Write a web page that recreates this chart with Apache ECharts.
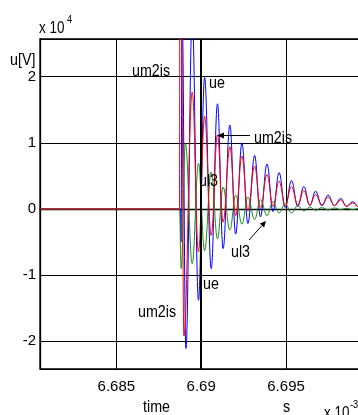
<!DOCTYPE html>
<html><head><meta charset="utf-8">
<script src="https://cdn.jsdelivr.net/npm/echarts@6/dist/echarts.min.js"></script>
<style>html,body{margin:0;padding:0;background:#fff;width:358px;height:415px;overflow:hidden}#c{width:368px;height:415px}</style>
</head><body><div id="c"></div>
<script>
const FONT = "'Liberation Sans',Arial,sans-serif";
// axis ranges (time in 10^-3 s, voltage in 10^4 V)
const xRange = [6.6805, 6.69983];
const yRange = [-2.42, 2.57];
const startTime = 6.6805;
// shared times of oscillation extrema after onset
const extremaTimes = [6.68947, 6.68984, 6.69020, 6.69059, 6.69096, 6.69129, 6.69169, 6.69203, 6.69240, 6.69275, 6.69315, 6.69349, 6.69388, 6.69423, 6.69459, 6.69495, 6.69532, 6.69569, 6.69605, 6.69640, 6.69674, 6.69711, 6.69748, 6.69785, 6.69822, 6.69856, 6.69893, 6.69929, 6.69965];
// ue (blue)
const ueOnsetTimes = [6.68878, 6.68881, 6.68887, 6.68910];
const ueOnsetValues = [0, -0.5, 3.0, -2.11];
const ueValues = [2.9, -1.38, 1.99, -0.9, 1.59, -0.6, 1.27, -0.38, 1.0, -0.22, 0.81, -0.12, 0.68, -0.04, 0.55, 0.02, 0.43, 0.04, 0.34, 0.05, 0.27, 0.05, 0.21, 0.05, 0.16, 0.04, 0.11, 0.03, 0.08];
// um2is (red)
const um2isOnsetTimes = [6.68872, 6.68874, 6.68883, 6.68898];
const um2isOnsetValues = [0, 3.2, 3.0, -1.92];
const um2isValues = [1.77, -0.65, 1.40, -0.40, 1.12, -0.20, 0.94, -0.10, 0.80, -0.03, 0.65, 0.01, 0.52, 0.04, 0.42, 0.05, 0.34, 0.06, 0.28, 0.06, 0.22, 0.06, 0.18, 0.05, 0.14, 0.04, 0.09, 0.03, 0.06];
// ul3 (green)
const ul3OnsetTimes = [6.68872, 6.68882, 6.68907];
const ul3OnsetValues = [0, -0.9, 0.99];
const ul3Values = [-0.83, 0.69, -0.63, 0.56, -0.45, 0.33, -0.32, 0.21, -0.23, 0.18, -0.16, 0.14, -0.10, 0.11, -0.06, 0.08, -0.06, 0.05, -0.03, 0.03, -0.02, 0.02, -0.015, 0.015, -0.01, 0.01, -0.01, 0.01, -0.005];

function build(onT, onV, vals) {
  const d = [[startTime, 0]];
  onT.forEach((t, i) => d.push([t, onV[i]]));
  extremaTimes.forEach((t, i) => d.push([t, vals[i]]));
  return d;
}

const chart = echarts.init(document.getElementById('c'), null, {renderer: 'canvas'});
const txt = (text, x, y, size, sx) => ({
  type: 'text', z: 100, x, y, scaleX: sx || 0.84,
  style: {text, x: 0, y: 0, font: size + 'px ' + FONT, fill: '#000', verticalAlign: 'middle', align: 'left'}
});
const lineSeries = (name, color, data, extra) => Object.assign({
  name, type: 'line', data, showSymbol: false, smooth: 0.4, smoothMonotone: 'x',
  lineStyle: {color, width: 1}, itemStyle: {color}, clip: true, animation: false
}, extra || {});

chart.setOption({
  animation: false,
  backgroundColor: '#fff',
  grid: {left: 40, top: 39, right: 0, bottom: 46, show: true, borderColor: '#000', borderWidth: 1.3},
  xAxis: {
    type: 'value', min: xRange[0], max: xRange[1], splitNumber: 4, minInterval: 0.005, maxInterval: 0.005,
    axisLine: {show: true, lineStyle: {color: '#000', width: 1.3}},
    axisTick: {show: false},
    axisLabel: {showMinLabel: false, showMaxLabel: false, color: '#000', fontSize: 15, fontFamily: FONT, margin: 10},
    splitLine: {show: true, lineStyle: {color: '#000', width: 1}}
  },
  yAxis: {
    type: 'value', min: yRange[0], max: yRange[1], splitNumber: 5, minInterval: 1, maxInterval: 1,
    axisLine: {show: true, lineStyle: {color: '#000', width: 1.3}},
    axisTick: {show: false},
    axisLabel: {showMinLabel: false, showMaxLabel: false, color: '#000', fontSize: 15, fontFamily: FONT, margin: 4},
    splitLine: {show: true, lineStyle: {color: '#000', width: 1}}
  },
  series: [
    lineSeries('ue', '#0000ff', build(ueOnsetTimes, ueOnsetValues, ueValues), {
      markLine: {symbol: 'none', silent: true, label: {show: false}, animation: false,
        lineStyle: {color: '#000', width: 2, type: 'solid'}, data: [{xAxis: 6.69}]}
    }),
    lineSeries('ul3', '#1a8c1a', build(ul3OnsetTimes, ul3OnsetValues, ul3Values)),
    lineSeries('um2is', '#ff0000', build(um2isOnsetTimes, um2isOnsetValues, um2isValues))
  ],
  graphic: [
    txt('x 10', 39, 29, 16),
    txt('4', 67, 20, 11),
    txt('u[V]', 10, 60, 17),
    txt('time', 143, 407, 17),
    txt('s', 283, 407, 17),
    txt('x 10', 324, 414, 16),
    txt('-3', 350, 405, 11),
    txt('um2is', 132, 71, 17),
    txt('ue', 209, 83, 17),
    txt('um2is', 254, 138, 17),
    txt('ul3', 199, 181, 17),
    txt('ul3', 231, 252, 17),
    txt('ue', 203, 284, 17),
    txt('um2is', 138, 312, 17),
    {type: 'line', z: 100, shape: {x1: 250, y1: 135.5, x2: 222, y2: 135.5}, style: {stroke: '#000', lineWidth: 1}},
    {type: 'polygon', z: 100, shape: {points: [[217, 135.5], [224, 132.5], [224, 138.5]]}, style: {fill: '#000'}},
    {type: 'line', z: 100, shape: {x1: 249, y1: 240, x2: 262, y2: 225.5}, style: {stroke: '#000', lineWidth: 1}},
    {type: 'polygon', z: 100, shape: {points: [[266, 221], [264.1, 227.4], [259.9, 223.6]]}, style: {fill: '#000'}}
  ]
});
</script>
</body></html>
